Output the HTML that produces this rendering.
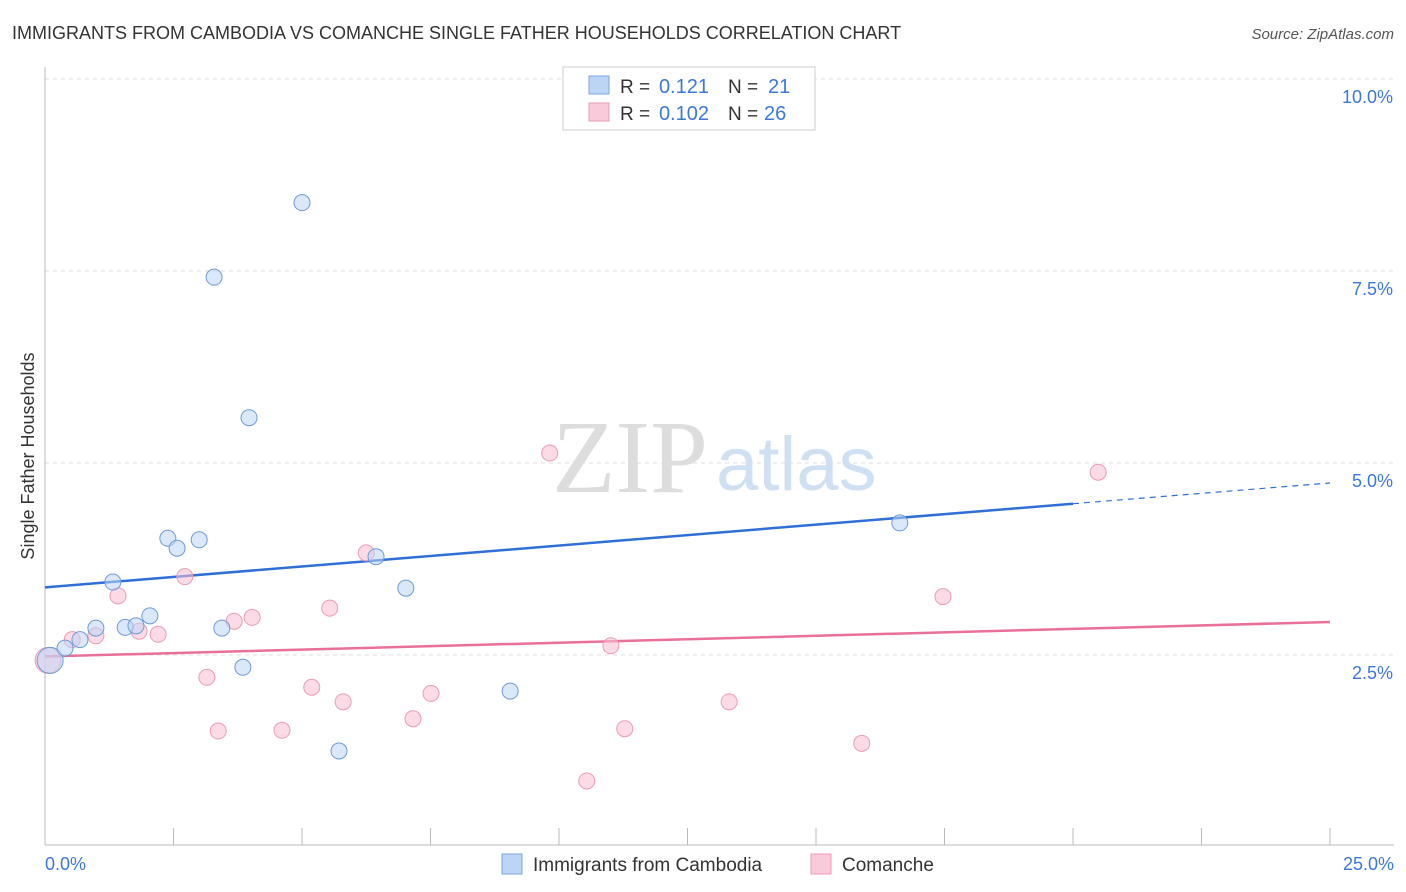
<!DOCTYPE html>
<html><head><meta charset="utf-8"><style>
body{margin:0;background:#fff;font-family:"Liberation Sans",sans-serif;}
svg{display:block}
</style></head><body>
<svg width="1406" height="892" xmlns="http://www.w3.org/2000/svg">
<text x="12" y="39" font-size="18" fill="#333">IMMIGRANTS FROM CAMBODIA VS COMANCHE SINGLE FATHER HOUSEHOLDS CORRELATION CHART</text>
<text x="1394" y="39" font-size="15" fill="#555" font-style="italic" text-anchor="end">Source: ZipAtlas.com</text>
<g id="grid"></g>
<g id="axes"></g>
<text x="552" y="492" font-size="104" fill="#ddd" font-family="Liberation Serif,serif">ZIP</text>
<text x="716" y="490" font-size="76" fill="#cfe0f3">atlas</text>
<text transform="translate(34,456) rotate(-90)" font-size="18" fill="#333" text-anchor="middle">Single Father Households</text>
<g id="lines"></g>
<g id="pts"></g>
<g>
<rect x="563" y="67" width="252" height="63" fill="#fff" stroke="#ccc"/>
<rect x="589" y="76" width="20" height="18" fill="#bcd5f5" stroke="#7aa6e0"/>
<rect x="589" y="103" width="20" height="18" fill="#f9cad9" stroke="#eb9bb5"/>
<text x="620" y="93" font-size="19" fill="#333">R =</text>
<text x="709" y="93" font-size="20" fill="#3c78d8" text-anchor="end">0.121</text>
<text x="728" y="93" font-size="19" fill="#333">N =</text>
<text x="768" y="93" font-size="20" fill="#3c78d8">21</text>
<text x="620" y="120" font-size="19" fill="#333">R =</text>
<text x="709" y="120" font-size="20" fill="#3c78d8" text-anchor="end">0.102</text>
<text x="728" y="120" font-size="19" fill="#333">N =</text>
<text x="764" y="120" font-size="20" fill="#3c78d8">26</text>
</g>
<g>
<rect x="502" y="854" width="20" height="20" fill="#bcd5f5" stroke="#7aa6e0"/>
<text x="533" y="871" font-size="19" fill="#333">Immigrants from Cambodia</text>
<rect x="811" y="854" width="20" height="20" fill="#f9cad9" stroke="#eb9bb5"/>
<text x="842" y="871" font-size="19" fill="#333">Comanche</text>
</g>
</svg>
<script>
const yTicks=[2.5,5,7.5,10];
const yTickLabels=["2.5%","5.0%","7.5%","10.0%"];
const xTickLabels=["0.0%","25.0%"];
const cambX=[0.1,0.39,0.68,0.99,1.32,1.56,1.77,2.04,2.39,2.57,3.0,3.29,3.44,3.85,3.97,5.0,5.72,6.44,7.02,9.05,16.63];
const cambY=[2.43,2.59,2.70,2.85,3.45,2.86,2.88,3.01,4.02,3.89,4.0,7.42,2.85,2.34,5.59,8.39,1.25,3.78,3.37,2.03,4.22];
const comX=[0.06,0.53,0.99,1.42,1.83,2.2,2.72,3.15,3.37,3.68,4.03,4.61,5.19,5.54,5.8,6.25,7.16,7.51,9.82,10.54,11.01,11.28,13.31,15.89,17.47,20.49];
const comY=[2.43,2.70,2.75,3.27,2.81,2.77,3.52,2.21,1.51,2.94,2.99,1.52,2.08,3.11,1.89,3.83,1.67,2.0,5.13,0.86,2.62,1.54,1.89,1.35,3.26,4.88];
const cambTrend=[3.38,4.47,4.74];
const comTrend=[2.48,2.93];
const X=v=>45+v/25*1285, Y=v=>847-v*76.8;
const NS="http://www.w3.org/2000/svg";
function mk(t,a,p){const e=document.createElementNS(NS,t);for(const k in a)e.setAttribute(k,a[k]);p.appendChild(e);return e;}
const grid=document.getElementById('grid'),axes=document.getElementById('axes');
yTicks.forEach((t,i)=>{
 const l=mk('line',{x1:45,x2:1394,y1:Y(t),y2:Y(t),stroke:'#ddd','stroke-dasharray':'4,4'},grid);
 
 
 const tx=mk('text',{x:1393,y:Y(t)+24,'font-size':18,fill:'#3c78d8','text-anchor':'end'},axes);
 tx.textContent=yTickLabels[i];
 
 
});
mk('line',{x1:45,x2:1394,y1:845,y2:845,stroke:'#bbb'},axes);
mk('line',{x1:45,x2:45,y1:67,y2:845,stroke:'#bbb'},axes);
for(let i=0;i<=10;i++){mk('line',{x1:X(i*2.5),x2:X(i*2.5),y1:828,y2:845,stroke:'#bbb'},axes);}
[[0,45,'start'],[25,1394,'end']].forEach((d,i)=>{const t=mk('text',{x:d[1],y:870,'font-size':18,fill:'#3c78d8','text-anchor':d[2]},axes);t.textContent=xTickLabels[i];
 
 });
const lines=document.getElementById('lines');
let a=mk('line',{x1:X(0),y1:Y(cambTrend[0]),x2:X(20),y2:Y(cambTrend[1]),stroke:'#2f6fd6','stroke-width':2.5},lines);


a=mk('line',{x1:X(20),y1:Y(cambTrend[1]),x2:X(25),y2:Y(cambTrend[2]),stroke:'#2f6fd6','stroke-width':1.2,'stroke-dasharray':'6,5'},lines);


a=mk('line',{x1:X(0),y1:Y(comTrend[0]),x2:X(25),y2:Y(comTrend[1]),stroke:'#e8709a','stroke-width':2.5},lines);


const pts=document.getElementById('pts');
comX.forEach((x,i)=>{const c=mk('circle',{cx:X(x),cy:Y(comY[i]),r:i==0?13:8,fill:'rgba(249,190,210,0.55)',stroke:'#eb9bb5','stroke-width':1},pts);
 
 });
cambX.forEach((x,i)=>{const c=mk('circle',{cx:X(x),cy:Y(cambY[i]),r:i==0?13:8,fill:'rgba(188,213,245,0.55)',stroke:'#6d9bd8','stroke-width':1},pts);
 
 });
</script>
</body></html>
